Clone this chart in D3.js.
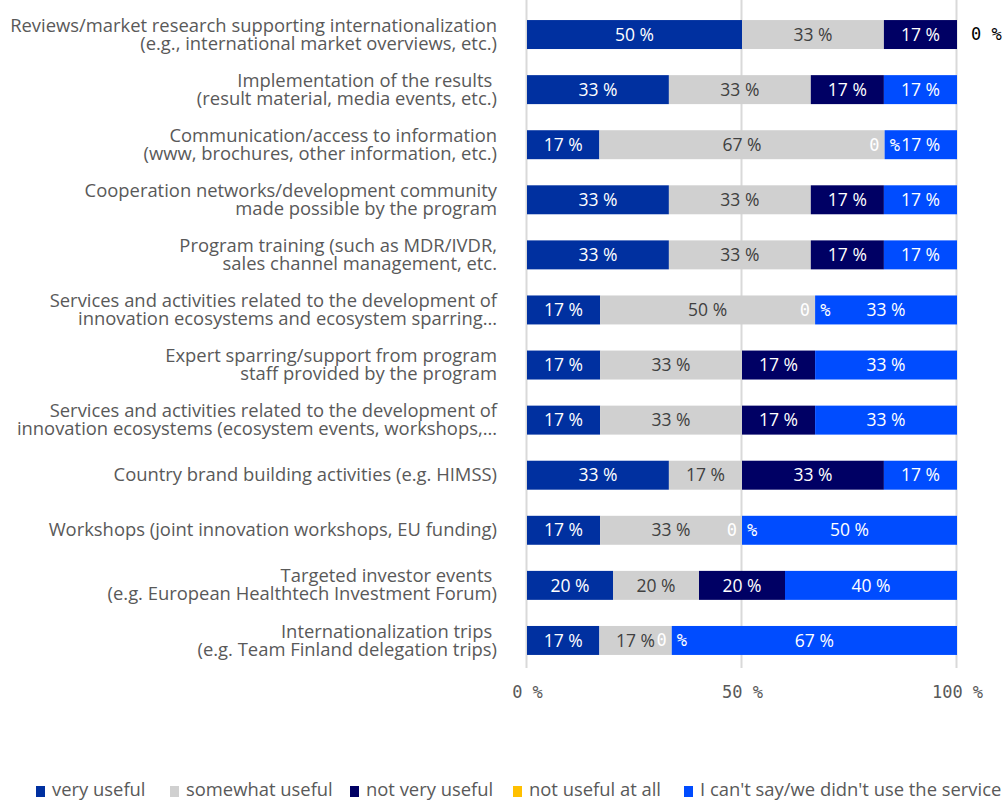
<!DOCTYPE html>
<html>
<head>
<meta charset="utf-8">
<script src="https://cdn.jsdelivr.net/npm/d3@7"></script>
<style>
  html, body { margin: 0; padding: 0; background: #fff; }
  svg { display: block; }
</style>
</head>
<body>
<svg id="chart" width="1006" height="800"></svg>
<script>
// Service categories, top to bottom (lines split with \n)
const categories = [
  "Reviews/market research supporting internationalization\n(e.g., international market overviews, etc.)",
  "Implementation of the results \n(result material, media events, etc.)",
  "Communication/access to information\n(www, brochures, other information, etc.)",
  "Cooperation networks/development community\nmade possible by the program",
  "Program training (such as MDR/IVDR,\nsales channel management, etc.",
  "Services and activities related to the development of\ninnovation ecosystems and ecosystem sparring…",
  "Expert sparring/support from program\nstaff provided by the program",
  "Services and activities related to the development of\ninnovation ecosystems (ecosystem events, workshops,…",
  "Country brand building activities (e.g. HIMSS)",
  "Workshops (joint innovation workshops, EU funding)",
  "Targeted investor events \n(e.g. European Healthtech Investment Forum)",
  "Internationalization trips \n(e.g. Team Finland delegation trips)"
];

// Share of answers (%) per category
const veryUseful     = [50, 33, 17, 33, 33, 17, 17, 17, 33, 17, 20, 17];
const somewhatUseful = [33, 33, 67, 33, 33, 50, 33, 33, 17, 33, 20, 17];
const notVeryUseful  = [17, 17,  0, 17, 17,  0, 17, 17, 33,  0, 20,  0];
const notUsefulAtAll = [ 0,  0,  0,  0,  0,  0,  0,  0,  0,  0,  0,  0];
const cantSay        = [ 0, 17, 17, 17, 17, 33, 33, 33, 17, 50, 40, 67];

const seriesNames = ["very useful", "somewhat useful", "not very useful", "not useful at all", "I can't say/we didn't use the service"];
const xTicks = [0, 50, 100];

const seriesValues = [veryUseful, somewhatUseful, notVeryUseful, notUsefulAtAll, cantSay];
const colors = ["#0030a0", "#d0d0d0", "#000064", "#ffc000", "#004cff"];
const labelColors = ["#ffffff", "#404040", "#ffffff", "#000000", "#ffffff"];
// how a zero value is labelled per series: inside the bar, after the bar end, or not at all
const zeroLabelMode = [null, null, "inside", null, "outside"];

const FONT = "'Open Sans', sans-serif";
const MONO = "'DejaVu Sans Mono', monospace";
const TEXT = "#595959";

const rows = categories.map((c, i) => {
  const r = { category: c };
  seriesNames.forEach((s, k) => { r[s] = seriesValues[k][i]; });
  return r;
});

const stack = d3.stack().keys(seriesNames).offset(d3.stackOffsetExpand);
const layers = stack(rows);

const svg = d3.select("#chart");

const x = d3.scaleLinear().domain([0, 1]).range([527, 957]);
const y = d3.scaleBand().domain(categories).range([7, 668])
  .paddingInner(0.474).paddingOuter(0.237);

// gridlines
svg.append("g").selectAll("line").data(xTicks).join("line")
  .attr("x1", d => x(d / 100) - 0.5).attr("x2", d => x(d / 100) - 0.5)
  .attr("y1", 0).attr("y2", 668)
  .attr("stroke", "#d9d9d9").attr("stroke-width", 2);

// x axis tick labels
const xAxis = d3.axisBottom(x).tickValues(xTicks.map(d => d / 100))
  .tickFormat(d => `${Math.round(d * 100)} %`).tickSize(0).tickPadding(0);
const gx = svg.append("g").attr("transform", "translate(0,686)").call(xAxis);
gx.select(".domain").remove();
gx.selectAll("text").attr("font-family", MONO).attr("font-size", 17)
  .attr("fill", TEXT).attr("dy", "0.71em");

// bars
layers.forEach((layer, k) => {
  svg.append("g").attr("fill", colors[k]).selectAll("rect").data(layer).join("rect")
    .attr("x", d => x(d[0]))
    .attr("width", d => Math.max(0, x(d[1]) - x(d[0])))
    .attr("y", d => y(d.data.category))
    .attr("height", y.bandwidth());
});

// value labels
layers.forEach((layer, k) => {
  const g = svg.append("g");
  layer.forEach((d, i) => {
    const v = seriesValues[k][i];
    const cy = y(d.data.category) + y.bandwidth() / 2;
    if (v > 0) {
      g.append("text")
        .attr("x", (x(d[0]) + x(d[1])) / 2).attr("y", cy).attr("dy", "0.35em")
        .attr("text-anchor", "middle").attr("font-family", FONT).attr("font-size", 17.5)
        .attr("fill", labelColors[k]).text(`${v} %`);
    } else if (zeroLabelMode[k] === "inside") {
      g.append("text")
        .attr("x", x(d[0])).attr("y", cy).attr("dy", "0.35em")
        .attr("text-anchor", "middle").attr("font-family", MONO).attr("font-size", 17)
        .attr("fill", "#ffffff").text(`${v} %`);
    } else if (zeroLabelMode[k] === "outside") {
      g.append("text")
        .attr("x", x(d[1]) + 14).attr("y", cy).attr("dy", "0.35em")
        .attr("text-anchor", "start").attr("font-family", MONO).attr("font-size", 17)
        .attr("fill", "#000000").text(`${v} %`);
    }
  });
});

// category labels
const yl = svg.append("g");
categories.forEach(c => {
  const lines = c.split("\n");
  const cy = y(c) + y.bandwidth() / 2;
  const t = yl.append("text").attr("text-anchor", "end").attr("font-family", FONT)
    .attr("font-size", 18.4).attr("fill", TEXT);
  lines.forEach((ln, j) => {
    t.append("tspan").attr("x", 497)
      .attr("y", cy + (j - (lines.length - 1) / 2) * 18)
      .attr("dy", "0.33em").attr("xml:space", "preserve").text(ln);
  });
});

// legend
const legendX = [36, 170, 350, 513, 684];
const lg = svg.append("g");
seriesNames.forEach((s, k) => {
  lg.append("rect").attr("x", legendX[k]).attr("y", 786).attr("width", 9).attr("height", 11)
    .attr("fill", colors[k]);
  lg.append("text").attr("x", legendX[k] + 16).attr("y", 790).attr("dy", "0.35em")
    .attr("font-family", FONT).attr("font-size", 18.4).attr("fill", TEXT).text(s);
});
</script>
</body>
</html>
